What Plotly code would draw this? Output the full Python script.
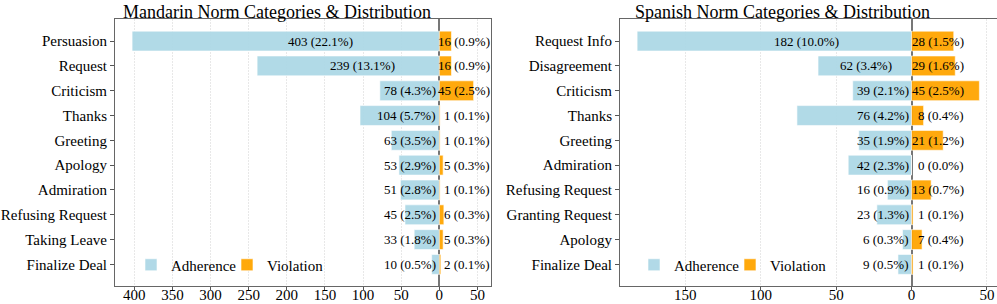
import plotly.graph_objects as go

# ---------------- data ----------------
zh_categories = ["Persuasion", "Request", "Criticism", "Thanks", "Greeting", "Apology",
                 "Admiration", "Refusing Request", "Taking Leave", "Finalize Deal"]
zh_adherence = [403, 239, 78, 104, 63, 53, 51, 45, 33, 10]
zh_adherence_pct = [22.1, 13.1, 4.3, 5.7, 3.5, 2.9, 2.8, 2.5, 1.8, 0.5]
zh_violation = [16, 16, 45, 1, 1, 5, 1, 6, 5, 2]
zh_violation_pct = [0.9, 0.9, 2.5, 0.1, 0.1, 0.3, 0.1, 0.3, 0.3, 0.1]

es_categories = ["Request Info", "Disagreement", "Criticism", "Thanks", "Greeting", "Admiration",
                 "Refusing Request", "Granting Request", "Apology", "Finalize Deal"]
es_adherence = [182, 62, 39, 76, 35, 42, 16, 23, 6, 9]
es_adherence_pct = [10.0, 3.4, 2.1, 4.2, 1.9, 2.3, 0.9, 1.3, 0.3, 0.5]
es_violation = [28, 29, 45, 8, 21, 0, 13, 1, 7, 1]
es_violation_pct = [1.5, 1.6, 2.5, 0.4, 1.2, 0.0, 0.7, 0.1, 0.4, 0.1]

zh_ticks = [400, 350, 300, 250, 200, 150, 100, 50, 0, 50]
es_ticks = [150, 100, 50, 0, 50]

titles = ["Mandarin Norm Categories & Distribution", "Spanish Norm Categories & Distribution"]

# ---------------- style ----------------
FONT = "Liberation Serif"
BLUE = "#ADD8E6"
ORANGE = "#FFA500"
W, H = 997, 304

fig = go.Figure()

panels = [
    dict(cats=zh_categories, adh=zh_adherence, adhp=zh_adherence_pct, vio=zh_violation,
         viop=zh_violation_pct, ticks=zh_ticks, xa="x", ya="y", legend="legend",
         dom=[115 / W, 490.7 / W], cshift=-16, vshift=53, title_x=277 / W),
    dict(cats=es_categories, adh=es_adherence, adhp=es_adherence_pct, vio=es_violation,
         viop=es_violation_pct, ticks=es_ticks, xa="x2", ya="y2", legend="legend2",
         dom=[620 / W, 996.5 / W], cshift=-14, vshift=54, title_x=782.5 / W),
]

label_font = dict(size=13, color="black", family=FONT)
annotations = []
for k, p in enumerate(panels):
    neg = [-v for v in p["adh"]]
    fig.add_trace(go.Bar(
        y=p["cats"], x=neg, orientation="h", name="Adherence", width=0.8,
        marker=dict(color=BLUE, line=dict(color="white", width=0.6)), opacity=0.95,
        xaxis=p["xa"], yaxis=p["ya"], legend=p["legend"], hoverinfo="skip"))
    fig.add_trace(go.Bar(
        y=p["cats"], x=p["vio"], orientation="h", name="Violation", width=0.8,
        marker=dict(color=ORANGE, line=dict(color="white", width=0.6)), opacity=0.95,
        xaxis=p["xa"], yaxis=p["ya"], legend=p["legend"], hoverinfo="skip"))

    for i, c in enumerate(p["cats"]):
        a_txt = f"{p['adh'][i]} ({p['adhp'][i]:.1f}%)"
        if i < 2:
            annotations.append(dict(x=-p["adh"][i] / 3, y=c, xref=p["xa"], yref=p["ya"],
                                    text=a_txt, showarrow=False, xanchor="center",
                                    xshift=p["cshift"], font=label_font))
        else:
            annotations.append(dict(x=0, y=c, xref=p["xa"], yref=p["ya"],
                                    text=a_txt, showarrow=False, xanchor="right",
                                    xshift=-1, font=label_font))
        v_txt = f"{p['vio'][i]} ({p['viop'][i]:.1f}%)"
        annotations.append(dict(x=0, y=c, xref=p["xa"], yref=p["ya"],
                                text=v_txt, showarrow=False, xanchor="right",
                                xshift=p["vshift"], font=label_font))

    annotations.append(dict(x=p["title_x"], y=1, xref="paper", yref="paper",
                            text=titles[k], showarrow=False, xanchor="center",
                            yanchor="top", yshift=0,
                            font=dict(size=18, color="black", family=FONT)))

    lo = -max(p["adh"])
    hi = max(p["vio"])
    pad = 0.05 * (hi - lo)
    # ticks left of zero are adherence (negative side), last tick is the violation side
    tickvals = [-t for t in p["ticks"][:-1]] + [p["ticks"][-1]]
    xaxis_cfg = dict(
        domain=p["dom"], range=[lo - pad, hi + pad], anchor=p["ya"],
        tickvals=tickvals, ticktext=[str(t) for t in p["ticks"]],
        showgrid=True, gridcolor="#e8e8e8", gridwidth=1, griddash="2px,1px",
        zeroline=True, zerolinecolor="#777777", zerolinewidth=1.5,
        showline=True, linecolor="#666666", linewidth=1, mirror=True,
        ticks="outside", ticklen=3, tickcolor="#555555",
        ticklabelstandoff=-8,
        tickfont=dict(size=15, color="black", family=FONT),
    )
    yaxis_cfg = dict(
        domain=[0.0576, 0.9375], anchor=p["xa"], type="category",
        categoryorder="array", categoryarray=p["cats"], range=[9.89, -0.89],
        showgrid=False, zeroline=False,
        showline=True, linecolor="#666666", linewidth=1, mirror=True,
        ticks="outside", ticklen=4, tickcolor="#555555",
        tickfont=dict(size=15, color="black", family=FONT),
    )
    if k == 0:
        fig.update_layout(xaxis=xaxis_cfg, yaxis=yaxis_cfg)
    else:
        fig.update_layout(xaxis2=xaxis_cfg, yaxis2=yaxis_cfg)

legend_common = dict(orientation="h", font=dict(size=15, color="black", family=FONT),
                     bgcolor="rgba(0,0,0,0)", yanchor="middle", xanchor="left",
                     traceorder="normal", entrywidth=51, entrywidthmode="pixels")

fig.update_layout(
    width=W, height=H,
    margin=dict(l=0, r=0, t=0, b=0, pad=0, autoexpand=False),
    paper_bgcolor="white", plot_bgcolor="white",
    font=dict(family=FONT, color="black"),
    barmode="overlay", bargap=0.2,
    showlegend=True,
    legend=dict(x=131 / W, y=(H - 265) / H, **legend_common),
    legend2=dict(x=634 / W, y=(H - 265) / H, **legend_common),
    annotations=annotations,
)

fig.write_html("out.html", config={"displayModeBar": False},
               post_script="document.body.style.margin='0';")
